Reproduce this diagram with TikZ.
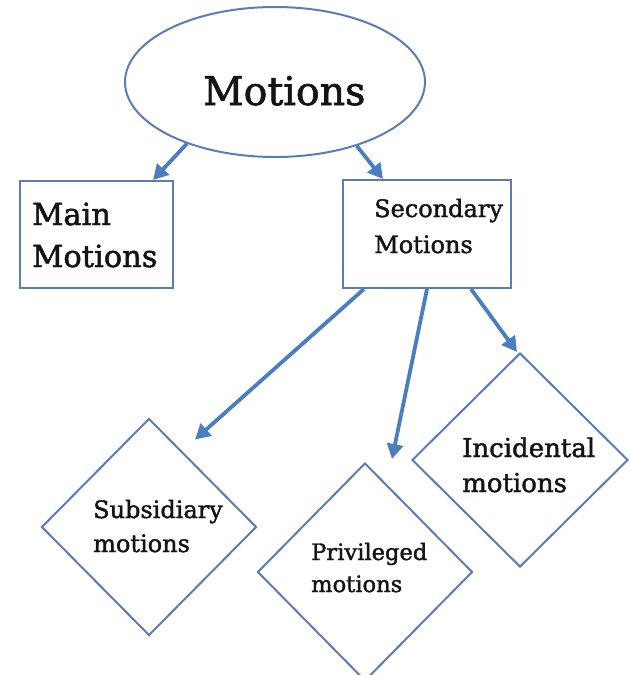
\documentclass[tikz,border=0pt]{standalone}
\usepackage{fontspec}
\setmainfont{DejaVu Serif}[FakeBold=1.6]
\usetikzlibrary{shapes.geometric,arrows.meta}
\definecolor{edgeblue}{RGB}{92,125,180}
\definecolor{arrblue}{RGB}{74,126,190}
\definecolor{ink}{RGB}{20,20,20}
\begin{document}
\begin{tikzpicture}[x=1pt,y=-1pt,
  shapebox/.style={draw=edgeblue,line width=2pt,fill=white,inner sep=0pt},
  conn/.style={draw=arrblue,line width=3.8pt,-{Triangle[length=15pt,width=16pt]}},
  lbl/.style={anchor=base west,inner sep=0pt,text=ink}]
\useasboundingbox[fill=white] (0,0) rectangle (629,675);
% shapes
\node[shapebox,ellipse,minimum width=300pt,minimum height=150pt] (root) at (275,82) {};
\node[shapebox,rectangle,minimum width=153pt,minimum height=107pt] (main) at (96.5,234.5) {};
\node[shapebox,rectangle,minimum width=168pt,minimum height=108pt] (sec) at (427,234) {};
\node[shapebox,diamond,minimum width=215pt,minimum height=217pt] (subs) at (149,527) {};
\node[shapebox,diamond,minimum width=215pt,minimum height=218pt] (priv) at (365,572) {};
\node[shapebox,diamond,minimum width=216pt,minimum height=214pt] (inc) at (520,460) {};
% texts
\node[lbl] (roott) at (203,105) {\fontsize{39.5}{46}\selectfont Motions};
\node[lbl] (maint1) at (32,225) {\fontsize{30.5}{36}\selectfont Main};
\node[lbl] (maint2) at (32,267) {\fontsize{30.5}{36}\selectfont Motions};
\node[lbl] (sect1) at (374,217) {\fontsize{24}{30}\selectfont Secondary};
\node[lbl] (sect2) at (374,253) {\fontsize{24}{30}\selectfont Motions};
\node[lbl] (subst1) at (93,518) {\fontsize{24}{29}\selectfont Subsidiary};
\node[lbl] (subst2) at (93,552) {\fontsize{24}{29}\selectfont motions};
\node[lbl] (privt1) at (311,560) {\fontsize{22.6}{28}\selectfont Privileged};
\node[lbl] (privt2) at (311,592) {\fontsize{22.6}{28}\selectfont motions};
\node[lbl] (inct1) at (462,457) {\fontsize{26}{31}\selectfont Incidental};
\node[lbl] (inct2) at (462,492) {\fontsize{26}{31}\selectfont motions};
% connectors
\draw[conn] (root.215) -- ([xshift=56.5pt]main.north);
\draw[conn] (root.322) -- ([xshift=-44pt]sec.north);
\draw[conn] ([xshift=-63pt]sec.south) -- ([xshift=46pt,yshift=-22pt]subs.north);
\draw[conn] (sec.south) -- ([xshift=27pt,yshift=3pt]priv.north);
\draw[conn] ([xshift=44pt]sec.south) -- ([xshift=-3pt]inc.north);
\end{tikzpicture}
\end{document}
